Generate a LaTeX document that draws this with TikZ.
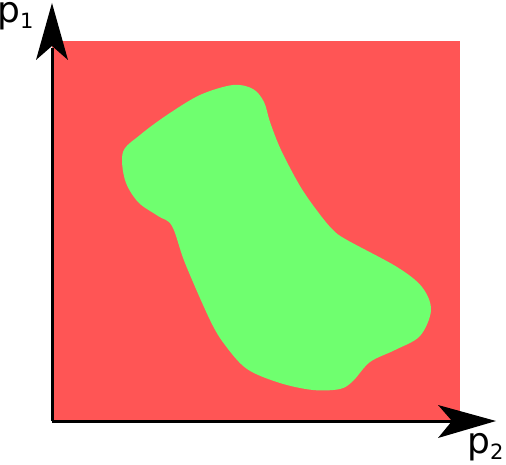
\documentclass[tikz,border=0pt]{standalone}
\usepackage{fontspec}
\setmainfont{DejaVu Sans}
\definecolor{regred}{HTML}{FF5555}
\definecolor{reggreen}{HTML}{6FFF6F}
\begin{document}
\begin{tikzpicture}[x=1pt,y=-1pt,
  axisline/.style={line width=3pt},
  tipshape/.style={fill=black},
  axlabel/.style={inner sep=0pt,anchor=base west,font=\fontsize{36}{40}\selectfont}]
\useasboundingbox (0,0) rectangle (506,465);
\fill[regred] (52,41) rectangle (460,421);
\fill[reggreen] plot[smooth cycle,tension=0.55] coordinates {
 (123,152) (140,135) (167,115) (200,95) (233,85) (253,89) (264,102) (270,122)
 (281,150) (300,186) (318,212) (333,230) (347,240) (397,267) (422,287) (431,310)
 (420,336) (395,350) (370,362) (353,381) (340,389) (313,390) (280,383) (247,369)
 (225,345) (210,320) (185,263) (172,226) (158,216) (138,202) (125,180)};
\coordinate (o) at (52,421);
\coordinate (ytop) at (52,48);
\coordinate (xend) at (453,421);
\draw[axisline] (o) -- (ytop);
\draw[axisline] (o) -- (xend);
\fill[tipshape] (52,3) -- (68,60) -- (52,46) -- (36,60) -- cycle;
\fill[tipshape] (496,421) -- (438,405) -- (452,421) -- (438,438) -- cycle;
\node[axlabel] (p1) at (-3,23) {p{\fontsize{21}{21}\selectfont\raisebox{-6pt}{1}}};
\node[axlabel] (p2) at (467,453) {p{\fontsize{21}{21}\selectfont\raisebox{-6pt}{2}}};
\end{tikzpicture}
\end{document}
